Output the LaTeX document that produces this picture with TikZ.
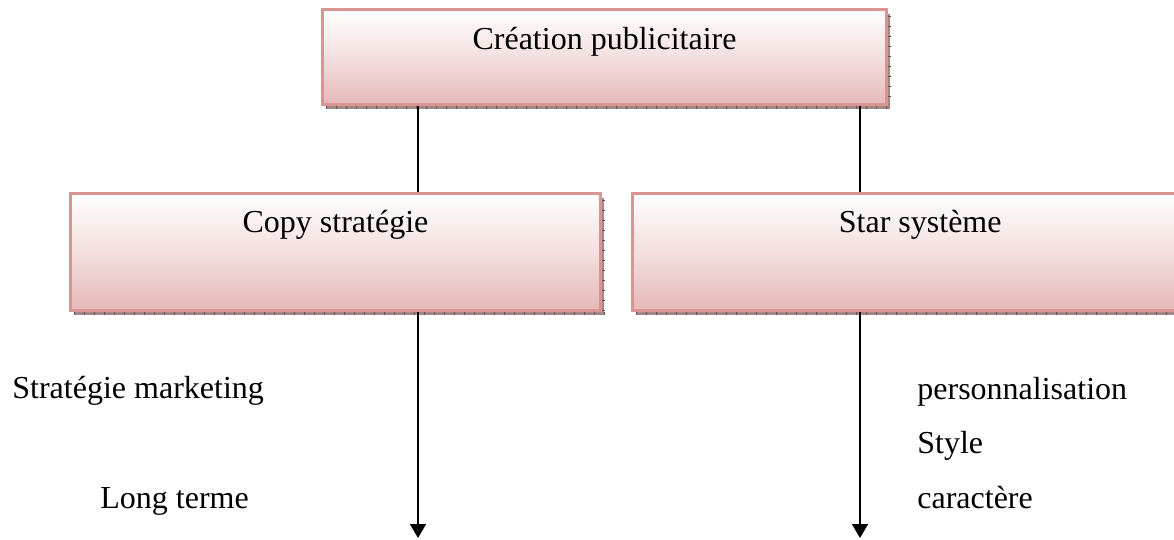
\documentclass[tikz,border=0pt]{standalone}
\usepackage{fontspec}
\setmainfont{Liberation Serif}
\usetikzlibrary{arrows.meta,shadows,calc}

\definecolor{boxborder}{HTML}{D99594}
\definecolor{boxbottom}{HTML}{E5B8B7}
\definecolor{shadowfill}{HTML}{A48888}
\definecolor{shadowtick}{HTML}{6E4A4A}

\tikzset{
  px/.style={x=0.5pt,y=-0.5pt},
  pinkbox/.style={
    draw=boxborder, line width=1.4pt, inner sep=0pt,
    top color=white, bottom color=boxbottom, middle color=boxbottom!45,
    general shadow={fill=shadowfill, shadow xshift=1.75pt, shadow yshift=-2.25pt}
  },
  shadowticks/.style={draw=shadowtick, line width=1.4pt, dash pattern=on 0.5pt off 4.5pt},
  lbl/.style={font=\fontsize{16}{19}\selectfont, inner sep=0pt},
  link/.style={line width=0.8pt, black},
  arrowlink/.style={link, -{Triangle[width=8pt,length=7pt]}}
}

\begin{document}
\begin{tikzpicture}[px]
  \useasboundingbox (0,0) rectangle (1174,540);

  % boxes
  \node[pinkbox, minimum width=282pt, minimum height=47.5pt] (top) at (604.5,57) {};
  \node[pinkbox, minimum width=265pt, minimum height=58.5pt] (copy) at (335.5,252) {};
  \node[pinkbox, minimum width=287.75pt, minimum height=58.5pt] (star) at (920.25,252) {};

  % tick texture on the shadow strips
  \draw[shadowticks] ($(top.south west)+(5,1.6)$) -- ($(top.south east)+(3,1.6)$);
  \draw[shadowticks] ($(top.north east)+(1.6,8)$) -- ($(top.south east)+(1.6,0)$);
  \draw[shadowticks] ($(copy.south west)+(5,1.6)$) -- ($(copy.south east)+(3,1.6)$);
  \draw[shadowticks] ($(copy.north east)+(1.6,8)$) -- ($(copy.south east)+(1.6,0)$);
  \draw[shadowticks] ($(star.south west)+(5,1.6)$) -- ($(star.south east)+(3,1.6)$);

  % box titles
  \node[lbl, anchor=base] (toptxt) at (604.5,50) {Création publicitaire};
  \node[lbl, anchor=base] (copytxt) at (335.5,233) {Copy stratégie};
  \node[lbl, anchor=base] (startxt) at (920.25,233) {Star système};

  % connector columns
  \coordinate (colL) at (418,0);
  \coordinate (colR) at (860,0);
  \coordinate (endL) at (418,538);
  \coordinate (endR) at (860,538);

  \draw[link] (colL |- top.south) -- (colL |- copy.north);
  \draw[link] (colR |- top.south) -- (colR |- star.north);
  \draw[arrowlink] (colL |- copy.south) -- (endL);
  \draw[arrowlink] (colR |- star.south) -- (endR);

  % side notes
  \node[lbl, anchor=base west] (n1) at (12,398) {Stratégie marketing};
  \node[lbl, anchor=base west] (n2) at (100,508) {Long terme};
  \node[lbl, anchor=base west] (n3) at (917,399) {personnalisation};
  \node[lbl, anchor=base west] (n4) at (917,453) {Style};
  \node[lbl, anchor=base west] (n5) at (917,508) {caractère};
\end{tikzpicture}
\end{document}
